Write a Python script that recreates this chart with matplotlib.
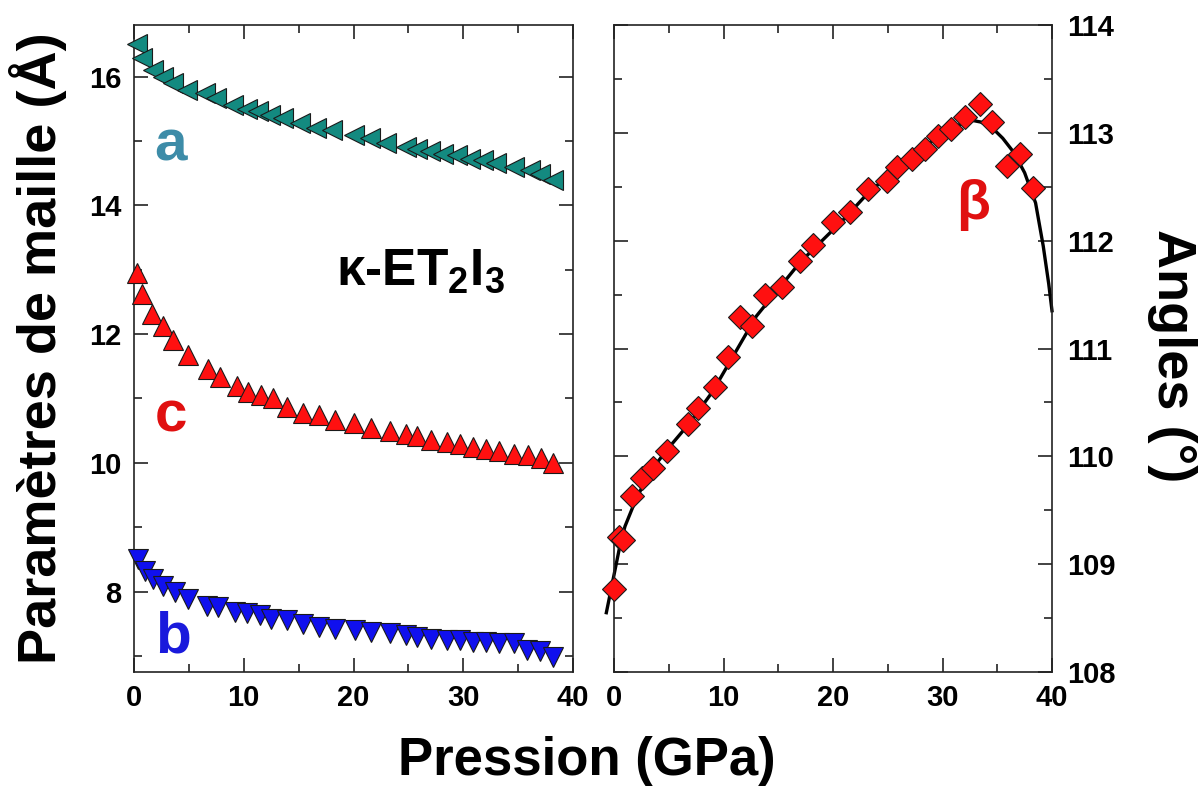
import matplotlib
matplotlib.use("Agg")
import matplotlib.pyplot as plt
from matplotlib.ticker import MultipleLocator

plt.rcParams['font.family'] = ['Liberation Sans', 'DejaVu Sans']
plt.rcParams['font.weight'] = 'bold'
plt.rcParams['mathtext.fontset'] = 'custom'
plt.rcParams['mathtext.rm'] = 'Liberation Sans:bold'
plt.rcParams['mathtext.bf'] = 'Liberation Sans:bold'
plt.rcParams['mathtext.it'] = 'Liberation Sans:bold'

# ---- data ----
a_x = [0.24, 0.70, 1.76, 2.67, 3.58, 4.8, 6.5, 7.5, 9.0, 10.3, 11.3, 12.4, 13.6, 15.1, 16.6,
       18.0, 20.0, 21.5, 23.0, 24.8, 25.8, 27.0, 28.2, 29.4, 30.6, 31.8, 33.0, 34.6, 36.1, 37.0, 38.2]
a_y = [16.50, 16.29, 16.10, 16.00, 15.90, 15.79, 15.74, 15.66, 15.56, 15.50, 15.46, 15.40, 15.35,
       15.27, 15.20, 15.17, 15.09, 15.04, 14.96, 14.91, 14.88, 14.85, 14.80, 14.78, 14.72, 14.70,
       14.65, 14.59, 14.54, 14.49, 14.39]

c_x = [0.24, 0.70, 1.61, 2.67, 3.58, 4.95, 6.77, 7.84, 9.35, 10.4, 11.6, 12.7, 13.9, 15.4, 16.9,
       18.3, 20.0, 21.6, 23.3, 24.8, 25.8, 27.1, 28.5, 29.7, 30.9, 32.1, 33.3, 34.6, 35.9, 37.1, 38.2]
c_y = [12.95, 12.62, 12.31, 12.13, 11.90, 11.67, 11.46, 11.33, 11.20, 11.10, 11.05, 11.00, 10.87,
       10.77, 10.74, 10.67, 10.62, 10.54, 10.49, 10.44, 10.41, 10.36, 10.33, 10.29, 10.25, 10.21,
       10.18, 10.14, 10.12, 10.07, 10.00]

b_x = [0.39, 1.0, 1.76, 2.67, 3.73, 4.95, 6.62, 7.68, 9.2, 10.3, 11.5, 12.5, 13.9, 15.4, 16.9,
       18.3, 20.1, 21.6, 23.3, 24.8, 25.8, 27.1, 28.5, 29.7, 30.9, 32.1, 33.3, 34.6, 35.8, 37.0, 38.2]
b_y = [8.50, 8.32, 8.20, 8.09, 7.99, 7.89, 7.78, 7.76, 7.68, 7.66, 7.63, 7.58, 7.55, 7.50, 7.45,
       7.42, 7.40, 7.37, 7.35, 7.32, 7.30, 7.27, 7.25, 7.25, 7.22, 7.22, 7.20, 7.20, 7.09, 7.07, 6.99]

beta_x = [0.0, 0.5, 0.8, 1.62, 2.53, 3.59, 4.81, 6.79, 7.70, 9.22, 10.4, 11.51, 12.57, 13.79, 15.3,
          16.99, 18.2, 20.03, 21.55, 23.22, 24.9, 25.8, 27.2, 28.4, 29.6, 30.8, 32.05, 33.4,
          34.5, 35.9, 37.1, 38.3]
beta_y = [108.77, 109.25, 109.22, 109.63, 109.80, 109.89, 110.05, 110.30, 110.45, 110.64, 110.92,
          111.29, 111.21, 111.50, 111.57, 111.81, 111.96, 112.17, 112.27, 112.48, 112.55, 112.68,
          112.76, 112.85, 112.97, 113.04, 113.15, 113.27, 113.10, 112.69, 112.80, 112.49]

fit_x = [-0.7, 0.0, 0.5, 1.0, 2.0, 3.0, 4.0, 5.0, 7.0, 9.0, 11.0, 13.0, 15.0, 17.0, 19.0, 21.0,
         23.0, 25.0, 27.0, 29.0, 31.0, 32.5, 33.5, 34.5, 35.5, 36.5, 37.5, 38.5, 39.2, 39.7, 40.0]
fit_y = [108.55, 108.9, 109.15, 109.35, 109.6, 109.8, 109.95, 110.08, 110.32, 110.6, 110.95,
         111.3, 111.55, 111.8, 112.0, 112.2, 112.42, 112.6, 112.76, 112.92, 113.05, 113.12,
         113.1, 113.05, 112.95, 112.82, 112.63, 112.35, 111.95, 111.6, 111.35]

W, H = 1204, 787
fig = plt.figure(figsize=(W / 100, H / 100), dpi=100)

def px_axes(x0, x1, ytop, ybot):
    return fig.add_axes([x0 / W, 1 - ybot / H, (x1 - x0) / W, (ybot - ytop) / H])

ax1 = px_axes(134, 573, 25, 672)
ax2 = px_axes(614, 1052, 25, 672)

edge = '#1a1a1a'
ax1.plot(a_x, a_y, ls='none', marker='<', ms=15, mfc='#138a80', mec=edge, mew=0.8, clip_on=False, zorder=3)
ax1.plot(c_x, c_y, ls='none', marker='^', ms=15, mfc='#ff1010', mec=edge, mew=0.8, clip_on=False, zorder=3)
ax1.plot(b_x, b_y, ls='none', marker='v', ms=15, mfc='#1010ee', mec=edge, mew=0.8, clip_on=False, zorder=3)

ax2.plot(fit_x, fit_y, color='black', lw=2.4, clip_on=False, zorder=2)
ax2.plot(beta_x, beta_y, ls='none', marker='D', ms=12.5, mfc='#ff1010', mec=edge, mew=0.8, clip_on=False, zorder=3)

ax1.set_xlim(0, 40)
ax1.set_ylim(6.75, 16.8)
ax2.set_xlim(0, 40)
ax2.set_ylim(108, 114)

for ax in (ax1, ax2):
    ax.xaxis.set_major_locator(MultipleLocator(10))
    ax.xaxis.set_minor_locator(MultipleLocator(5))
    for s in ax.spines.values():
        s.set_linewidth(1.2)
        s.set_color('#222222')
    ax.tick_params(which='both', direction='in', top=True, bottom=True, left=True, right=True,
                   width=1.2, color='#222222', labelsize=21, pad=9)
    ax.tick_params(which='major', length=10)
    ax.tick_params(which='minor', length=6)

ax1.yaxis.set_major_locator(MultipleLocator(2))
ax1.yaxis.set_minor_locator(MultipleLocator(1))
ax2.yaxis.set_major_locator(MultipleLocator(1))
ax2.yaxis.set_minor_locator(MultipleLocator(0.5))
ax2.tick_params(axis='y', which='both', labelleft=False, labelright=True, pad=11)

for ax in (ax1, ax2):
    for lab in ax.get_xticklabels() + ax.get_yticklabels():
        lab.set_fontweight('bold')

# Series labels
ax1.text(3.37, 14.70, 'a', color='#3d8ca8', fontsize=42, fontweight='bold', ha='center', va='baseline')
ax1.text(3.37, 10.48, 'c', color='#e01010', fontsize=42, fontweight='bold', ha='center', va='baseline')
ax1.text(3.55, 7.05, 'b', color='#1a1adc', fontsize=42, fontweight='bold', ha='center', va='baseline')
ax2.text(32.8, 112.2, 'β', color='#e01010', fontsize=40, fontweight='bold', ha='center', va='baseline')
ax1.text(26.06, 12.77, r'κ-ET$_2$I$_3$', color='black', fontsize=37, fontweight='bold',
         ha='center', va='baseline')

# Axis labels
fig.text(38 / W, 1 - 348 / H, 'Paramètres de maille (Å)', rotation=90, fontsize=39,
         fontweight='bold', ha='center', va='center')
fig.text(1172 / W, 1 - 356 / H, 'Angles (°)', rotation=270, fontsize=39,
         fontweight='bold', ha='center', va='center')
fig.text(587 / W, 1 - 775 / H, 'Pression (GPa)', fontsize=38, fontweight='bold',
         ha='center', va='baseline')

fig.savefig('out.png', dpi=100)
